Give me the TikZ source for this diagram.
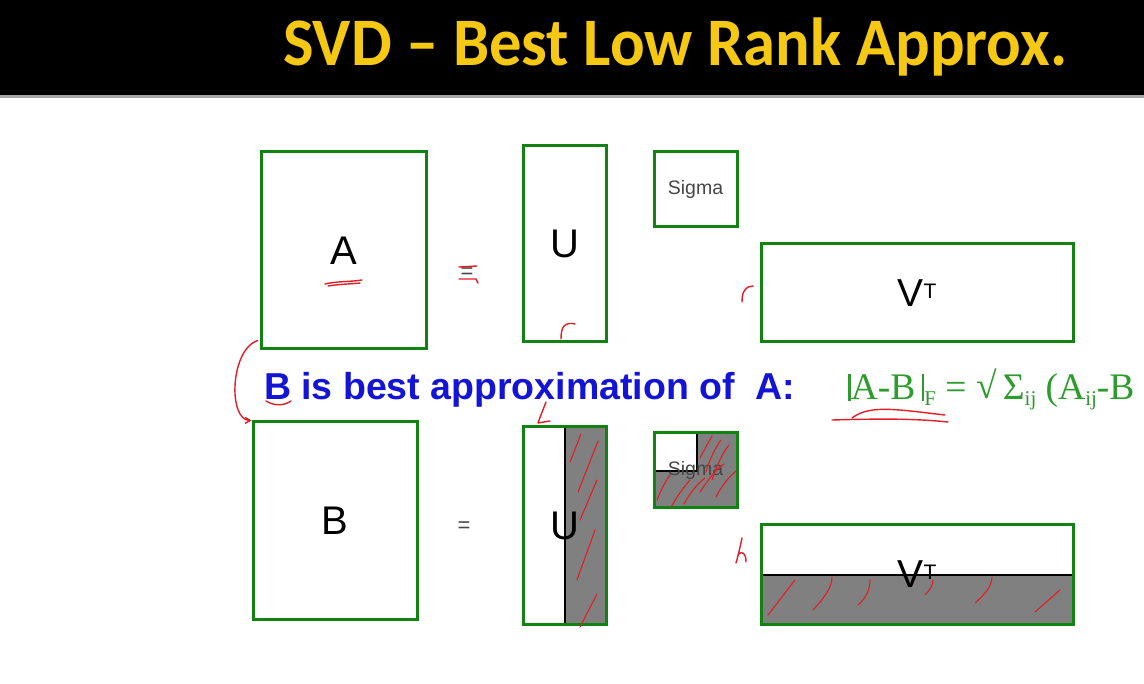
\documentclass[tikz,border=0pt]{standalone}
\usepackage{fontspec}
\usepackage{graphicx}
\setmainfont{Liberation Sans}
\newfontfamily\titlefam{Carlito}
\newfontfamily\seriffam{Liberation Serif}
\usetikzlibrary{arrows.meta}

\definecolor{matgreen}{RGB}{18,130,18}
\definecolor{formgreen}{RGB}{45,155,45}
\definecolor{titleyellow}{RGB}{245,200,20}
\definecolor{textblue}{RGB}{20,20,215}
\definecolor{inkred}{RGB}{225,30,40}
\definecolor{shadegray}{RGB}{128,128,128}
\definecolor{labelgray}{RGB}{70,70,70}

\newcommand{\normbar}{\rule[-1pt]{2.8pt}{27pt}}
\newcommand{\lowsub}[1]{\raisebox{-6pt}{\fontsize{21}{21}\selectfont #1}}

\tikzset{
  mbox/.style={draw=matgreen, line width=3pt, inner sep=0pt},
  biglabel/.style={font=\fontsize{40}{40}\selectfont},
  ink/.style={draw=inkred, line width=1.4pt, line cap=round, line join=round},
  hatch/.style={ink, line width=1.1pt},
  splitline/.style={draw=black, line width=2pt},
  plain/.style={inner sep=0pt, outer sep=0pt}
}

\begin{document}
\begin{tikzpicture}[x=1pt, y=-1pt]
\useasboundingbox (0,0) rectangle (1144,684);
\clip (0,0) rectangle (1144,684);
\fill[white] (0,0) rectangle (1144,684);

% title band
\fill[black] (0,0) rectangle (1144,95);
\fill[black!35] (0,95) rectangle (1144,98);
\node[plain, anchor=base west, text=titleyellow,
      font=\titlefam\bfseries\fontsize{68}{68}\selectfont] (title) at (283,66)
      {\scalebox{0.95}[1]{SVD – Best Low Rank Approx.}};

% ---- full factorisation ----
\node[mbox, biglabel, minimum width=165pt, minimum height=197pt] (A) at (343.5,250.5) {A};
\node[plain, text=labelgray, font=\fontsize{22}{22}\selectfont] (eqtop) at (467,273) {=};
\node[mbox, biglabel, minimum width=83pt, minimum height=196pt] (U) at (564.5,244) {U};
\node[mbox, minimum width=83pt, minimum height=75pt, text=labelgray,
      font=\fontsize{19.5}{19.5}\selectfont] (S) at (695.5,189.5) {Sigma};
\node[mbox, minimum width=312pt, minimum height=98pt,
      font=\fontsize{39}{39}\selectfont] (V) at (917,293)
      {V\raisebox{8pt}{\fontsize{21}{21}\selectfont T}};

% ---- statement ----
\node[plain, anchor=base west, text=textblue,
      font=\bfseries\fontsize{37.5}{37.5}\selectfont] (stmt) at (264,400)
      {B is best approximation of\ \ A:};
\node[plain, anchor=base west, text=formgreen,
      font=\seriffam\fontsize{37.5}{37.5}\selectfont] (frob) at (848,400)
      {\normbar A-B\,\normbar\lowsub{F} = \raisebox{1pt}{√}\,Σ\lowsub{ij} (A\lowsub{ij}-B};

% ---- truncated factorisation: discarded parts shaded ----
\fill[shadegray] (565,427) rectangle (606,624);
\fill[shadegray] (654,433) rectangle (737,508);
\fill[white] (654,433) rectangle (697,471);
\fill[shadegray] (761,575) rectangle (1073,624);
\draw[splitline] (565,427) -- (565,624);
\draw[splitline] (697,433) -- (697,471) -- (654,471);
\draw[splitline] (761,575) -- (1073,575);

\node[mbox, biglabel, minimum width=164pt, minimum height=197pt] (B) at (335,520.5) {B};
\node[plain, text=labelgray, font=\fontsize{22}{22}\selectfont] (eqbot) at (464,527) {=};
\node[mbox, biglabel, minimum width=83pt, minimum height=197pt] (U2) at (564.5,525.5) {U};
\node[mbox, minimum width=83pt, minimum height=75pt, text=labelgray,
      font=\fontsize{19.5}{19.5}\selectfont] (S2) at (695.5,470.5) {Sigma};
\node[mbox, minimum width=312pt, minimum height=99pt,
      font=\fontsize{39}{39}\selectfont] (V2) at (917,574.5)
      {V\raisebox{8pt}{\fontsize{21}{21}\selectfont T}};

% ---- hand annotations ----
% A goes to B
\draw[ink, -{Straight Barb[length=5pt,width=6pt]}] (A.south west) ++(-2,-10)
   .. controls (230,350) and (228,420) .. (B.north west);
% underlines
\draw[ink] (325,284) .. controls (338,281) and (350,282) .. (362,280);
\draw[ink] (328,286) .. controls (340,284) and (352,284) .. (360,283);
\draw[ink] (266,401) .. controls (274,406) and (284,406) .. (291,401);
% approx sign over the top equals
\draw[ink] (459,267) -- (477,266);
\draw[ink] (459,279) -- (476,279) -- (478,283);
% rank marks
\draw[ink] (561,339) .. controls (561,333) and (562,328) .. (564,326) .. controls (567,323) and (572,323) .. (575,324);
\draw[ink] (742,302) .. controls (742,296) and (743,292) .. (745,290) .. controls (747,287) and (750,286) .. (753,286);
\draw[ink] (546,402) .. controls (543,410) and (540,417) .. (538,423) -- (550,421);
\draw[ink] (742,538) .. controls (740,548) and (738,556) .. (736,563);
\draw[ink] (738,555) .. controls (742,550) and (746,553) .. (746,562);
% underline of the norm
\draw[ink] (832,420) .. controls (870,419) and (910,418) .. (948,422);
\draw[ink] (852,418) .. controls (870,404) and (900,410) .. (945,415);

% hatching of the discarded parts
\draw[hatch] (570,462) -- (581,434);
\draw[hatch] (578,492) -- (598,441);
\draw[hatch] (580,520) -- (597,480);
\draw[hatch] (577,580) -- (595,530);
\draw[hatch] (580,627) -- (597,594);
\draw[hatch] (700,458) -- (712,436);
\draw[hatch] (706,472) .. controls (710,458) and (716,447) .. (721,440);
\draw[hatch] (712,480) .. controls (717,465) and (723,452) .. (729,445);
\draw[hatch] (700,492) .. controls (708,480) and (715,470) .. (724,464);
\draw[hatch] (716,497) .. controls (722,485) and (729,477) .. (736,471);
\draw[hatch] (657,500) .. controls (661,490) and (665,482) .. (670,475);
\draw[hatch] (671,507) .. controls (678,495) and (684,487) .. (690,480);
\draw[hatch] (684,504) .. controls (690,493) and (697,484) .. (705,478);
\draw[hatch] (768,615) -- (795,580);
\draw[hatch] (813,610) .. controls (824,598) and (832,588) .. (832,577);
\draw[hatch] (858,605) .. controls (866,598) and (870,590) .. (870,580);
\draw[hatch] (925,595) .. controls (930,590) and (933,585) .. (933,580);
\draw[hatch] (975,603) .. controls (985,594) and (992,586) .. (992,577);
\draw[hatch] (1035,612) -- (1060,590);
\end{tikzpicture}
\end{document}
